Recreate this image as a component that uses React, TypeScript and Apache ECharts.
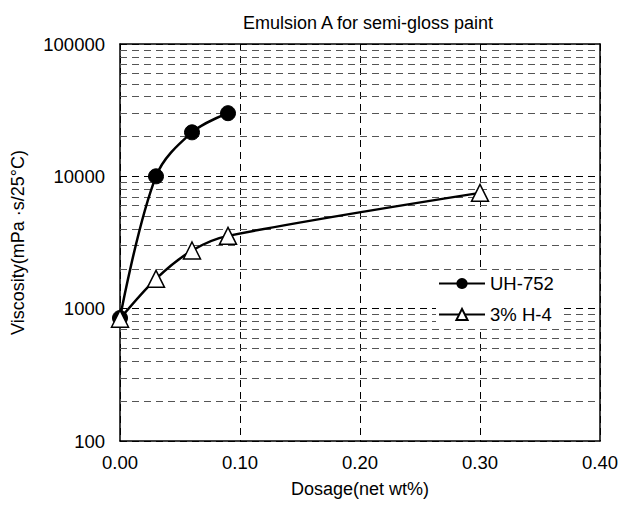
import React, { useEffect, useRef } from "react";
import * as echarts from "echarts";

const titleText = "Emulsion A for semi-gloss paint";
const xName = "Dosage(net wt%)";
const yName = "Viscosity(mPa ·s/25°C)";
const seriesNames = ["UH-752", "3% H-4"];
const uhData: [number, number][] = [
  [0, 850],
  [0.03, 10000],
  [0.06, 21500],
  [0.09, 30000],
];
const h4Data: [number, number][] = [
  [0, 840],
  [0.03, 1680],
  [0.06, 2750],
  [0.09, 3550],
  [0.3, 7500],
];
const minorLevels: number[] = [
  200, 300, 400, 500, 600, 700, 800, 900,
  2000, 3000, 4000, 5000, 6000, 7000, 8000, 9000,
  20000, 30000, 40000, 50000, 60000, 70000, 80000, 90000,
];

export default function App() {
  const ref = useRef<HTMLDivElement>(null);
  useEffect(() => {
    if (!ref.current) return;
    const chart = echarts.init(ref.current, undefined, { renderer: "svg" });
    const font = "Liberation Sans, Arial, sans-serif";
    const fs = 18.5;
    chart.setOption({
      animation: false,
      backgroundColor: "#fff",
      title: {
        text: titleText,
        left: 363,
        textAlign: "center",
        top: 9,
        textStyle: { fontFamily: font, fontSize: 18, fontWeight: "normal", color: "#000" },
      },
      grid: { left: 120, right: 20, top: 44, bottom: 68 },
      legend: {
        orient: "vertical",
        left: 436,
        top: 270,
        itemWidth: 46,
        itemHeight: 14,
        itemGap: 12,
        backgroundColor: "#fff",
        padding: [4, 10, 4, 2],
        z: 20,
        textStyle: { fontFamily: font, fontSize: fs, color: "#000" },
        data: seriesNames,
      },
      xAxis: [
        {
          type: "value",
          min: 0,
          max: 0.4,
          interval: 0.1,
          name: xName,
          nameLocation: "middle",
          nameGap: 39,
          nameTextStyle: { fontFamily: font, fontSize: 18, color: "#000" },
          axisLine: { show: true, lineStyle: { color: "#000", width: 1.5 } },
          axisTick: { show: false },
          axisLabel: {
            fontFamily: font,
            fontSize: fs,
            color: "#000",
            margin: 12,
            formatter: (v: number) => v.toFixed(2),
          },
          splitLine: { show: true, lineStyle: { color: "#000", type: [7, 5], width: 1 } },
        },
        {
          type: "value",
          position: "top",
          min: 0,
          max: 1,
          axisLine: { show: true, onZero: false, lineStyle: { color: "#000", width: 1.5 } },
          axisTick: { show: false },
          axisLabel: { show: false },
          splitLine: { show: false },
        },
      ],
      yAxis: [
        {
          type: "log",
          logBase: 10,
          min: 100,
          max: 100000,
          name: yName,
          nameLocation: "middle",
          nameGap: 93,
          nameTextStyle: { fontFamily: font, fontSize: 18, color: "#000" },
          axisLine: { show: true, lineStyle: { color: "#000", width: 1.5 } },
          axisTick: { show: false },
          axisLabel: {
            fontFamily: font,
            fontSize: fs,
            color: "#000",
            margin: 15,
            formatter: (v: number) => String(Math.round(v)),
          },
          splitLine: { show: true, lineStyle: { color: "#000", type: [7, 5], width: 1 } },
        },
        {
          type: "value",
          position: "right",
          min: 0,
          max: 1,
          axisLine: { show: true, onZero: false, lineStyle: { color: "#000", width: 1.5 } },
          axisTick: { show: false },
          axisLabel: { show: false },
          splitLine: { show: false },
        },
      ],
      series: [
        {
          name: "minor",
          type: "line",
          data: [],
          silent: true,
          z: 1,
          markLine: {
            silent: true,
            symbol: "none",
            z: 1,
            label: { show: false },
            lineStyle: { color: "#555", type: [7, 5], width: 1 },
            data: minorLevels.map((v) => ({ yAxis: v })),
          },
        },
        {
          name: seriesNames[0],
          type: "line",
          data: uhData,
          smooth: 0.35,
          symbol: "circle",
          symbolSize: 15,
          lineStyle: { color: "#000", width: 2.5 },
          itemStyle: { color: "#000", borderColor: "#000" },
          z: 5,
        },
        {
          name: seriesNames[1],
          type: "line",
          data: h4Data,
          smooth: 0.3,
          symbol: "triangle",
          symbolSize: 17,
          lineStyle: { color: "#000", width: 2.5 },
          itemStyle: { color: "#fff", borderColor: "#000", borderWidth: 1.5 },
          z: 5,
        },
      ],
    });
    return () => chart.dispose();
  }, []);
  return <div ref={ref} style={{ width: 621, height: 509, position: "absolute", left: 0, top: 0 }} />;
}
